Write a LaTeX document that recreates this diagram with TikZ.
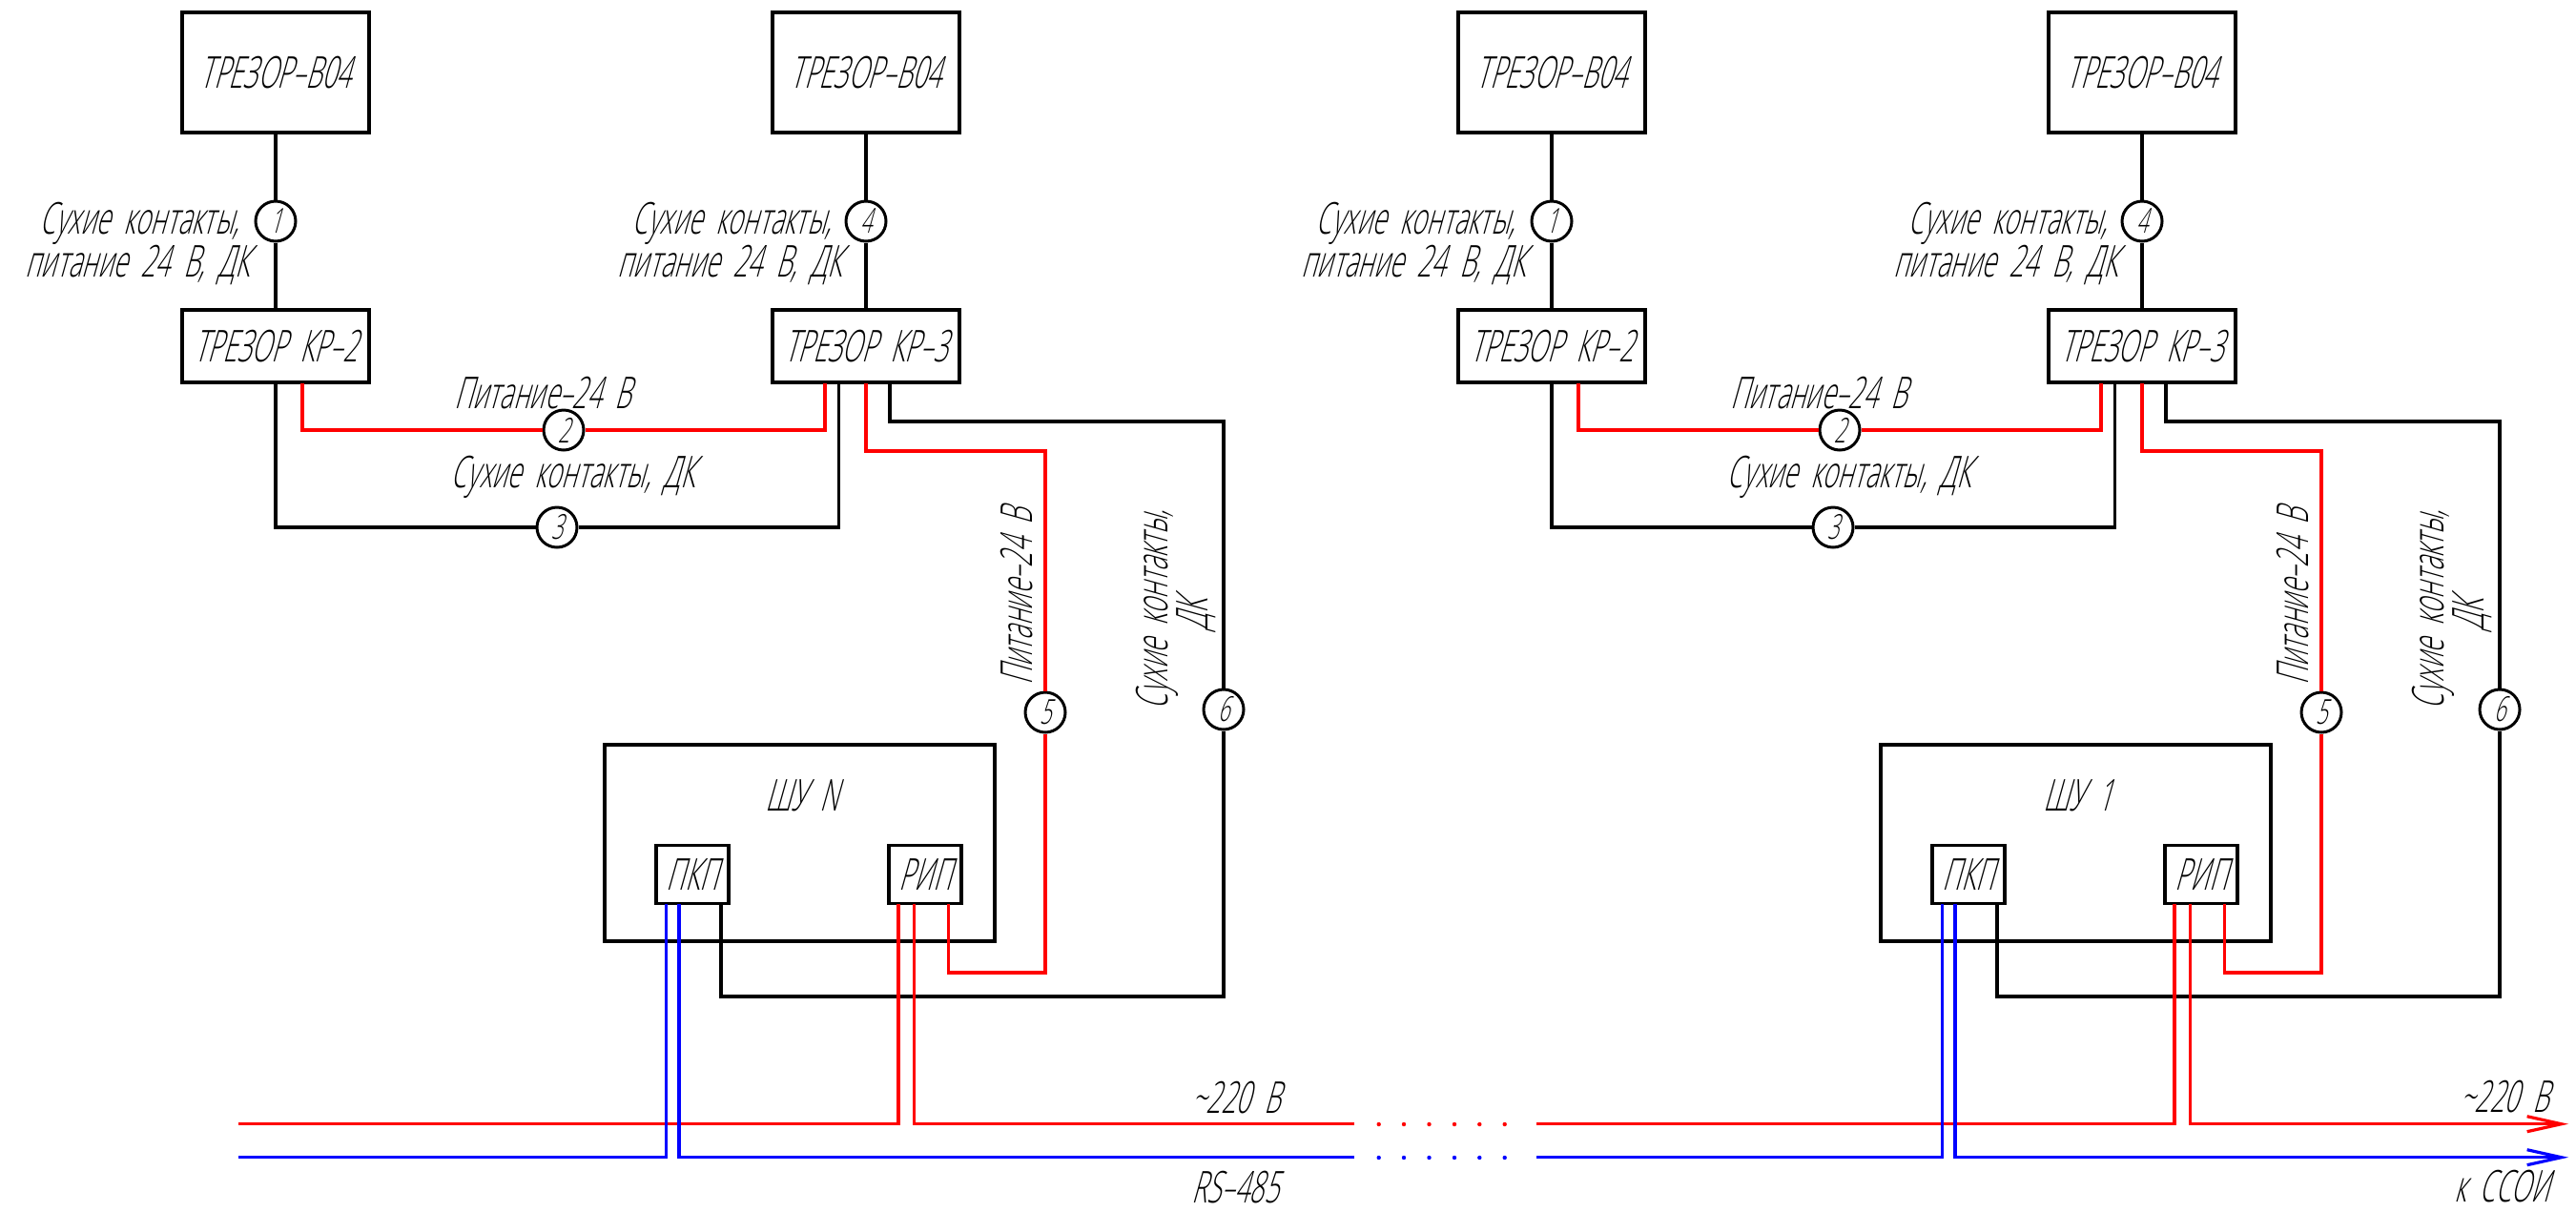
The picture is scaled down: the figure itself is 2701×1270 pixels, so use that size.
\documentclass[tikz,border=0pt]{standalone}
\usepackage{fontspec}
\setmainfont[FakeSlant=0.28,FakeStretch=0.59,WordSpace=2.0]{Open Sans Light}
\definecolor{wred}{RGB}{255,0,0}
\definecolor{wblue}{RGB}{0,0,255}
\usetikzlibrary{arrows.meta}
\tikzset{
  devbox/.style={draw=black,line width=1.9pt,fill=white,inner sep=0pt,font=\fontsize{23}{23}\selectfont},
  num/.style={draw=black,line width=1.5pt,fill=white,circle,minimum size=21pt,inner sep=0pt,font=\fontsize{18}{18}\selectfont},
  lab/.style={inner sep=0pt,font=\fontsize{23}{23}\selectfont},
  wk/.style={draw=black,line width=1.6pt},
  wr/.style={draw=wred,line width=1.6pt},
  wb/.style={draw=wblue,line width=1.6pt},
  tipo/.style={-{Straight Barb[length=18pt,width=8pt,line width=1.6pt]}},
}
\begin{document}
\begin{tikzpicture}[x=0.5pt,y=-0.5pt]
\useasboundingbox (0,0) rectangle (2701,1270);
\foreach \o/\p/\t in {0/a/N,1338/b/1}{
\begin{scope}[shift={(\o,0)}]
  % devices
  \node[devbox,minimum width=98pt,minimum height=63pt] (\p B1) at (289,76) {ТРЕЗОР–В04};
  \node[devbox,minimum width=98pt,minimum height=63pt] (\p B2) at (908,76) {ТРЕЗОР–В04};
  \node[devbox,minimum width=98pt,minimum height=38pt] (\p K1) at (289,363) {ТРЕЗОР КР–2};
  \node[devbox,minimum width=98pt,minimum height=38pt] (\p K2) at (908,363) {ТРЕЗОР КР–3};
  \node[devbox,minimum width=204.5pt,minimum height=103pt] (\p S) at (838.5,884) {};
  \node[lab] (\p St) at (841,834) {ШУ \t};
  \node[devbox,minimum width=38pt,minimum height=30.5pt] (\p P) at (726,917) {ПКП};
  \node[devbox,minimum width=38pt,minimum height=30.5pt] (\p R) at (970,917) {РИП};
  % numbered circles
  \node[num] (\p c1) at (289,232) {1};
  \node[num] (\p c2) at (591,451) {2};
  \node[num] (\p c3) at (584,553) {3};
  \node[num] (\p c4) at (908,232) {4};
  \node[num] (\p c5) at (1096,747) {5};
  \node[num] (\p c6) at (1283,744) {6};
  % labels
  \node[lab] (\p l1) at (146,234) {Сухие контакты,};
  \node[lab] (\p l2) at (144,278) {питание 24 В, ДК};
  \node[lab] (\p l3) at (767,234) {Сухие контакты,};
  \node[lab] (\p l4) at (765,278) {питание 24 В, ДК};
  \node[lab] (\p l5) at (569,412) {Питание–24 В};
  \node[lab] (\p l6) at (601,500) {Сухие контакты, ДК};
  \node[lab,rotate=90] (\p l7) at (1066,626) {Питание–24 В};
  \node[lab,rotate=90] (\p l8) at (1213,640) {Сухие контакты,};
  \node[lab,rotate=90] (\p l9) at (1254,645) {ДК};
  % terminal coordinates on the lower box edges
  \coordinate (\p k1r) at (317,401.5);
  \coordinate (\p k2r) at (865,401.5);
  \coordinate (\p k2k) at (879.5,401.5);
  \coordinate (\p k2o) at (908,401.5);
  \coordinate (\p k2q) at (933,401.5);
  \coordinate (\p rr) at (994.5,947.5);
  \coordinate (\p pk) at (756,947.5);
  \coordinate (\p rl) at (942,947.5);
  \coordinate (\p rm) at (958.7,947.5);
  \coordinate (\p pl) at (698.5,947.5);
  \coordinate (\p pm) at (712,947.5);
  % connectors
  \draw[wk] (\p B1) -- (\p c1) -- (\p K1);
  \draw[wk] (\p B2) -- (\p c4) -- (\p K2);
  \draw[wr] (\p k1r) |- (\p c2) -| (\p k2r);
  \draw[wk] (\p K1.south) |- (\p c3) -| (\p k2k);
  \draw[wr] (\p k2o) |- (\p c5.north |- 0,473) -- (\p c5);
  \draw[wk] (\p k2q) |- (\p c6.north |- 0,442) -- (\p c6);
  \draw[wr] (\p c5) |- (\p rr |- 0,1020) -- (\p rr);
  \draw[wk] (\p c6) |- (\p pk |- 0,1045) -- (\p pk);
\end{scope}
}
% bus lines
\coordinate (rs) at (250,1178.7);
\coordinate (bs) at (250,1213.7);
\coordinate (re) at (1420,1178.7);
\coordinate (be) at (1420,1213.7);
\coordinate (rs2) at (1611,1178.7);
\coordinate (bs2) at (1611,1213.7);
\coordinate (rt) at (2693,1178.7);
\coordinate (bt) at (2693,1213.7);
\draw[wr] (rs) -- (arl |- rs) -- (arl);
\draw[wr] (arm) -- (arm |- re) -- (re);
\draw[wb] (bs) -- (apl |- bs) -- (apl);
\draw[wb] (apm) -- (apm |- be) -- (be);
\draw[wr] (rs2) -- (brl |- rs2) -- (brl);
\draw[wr,tipo] (brm) -- (brm |- rt) -- (rt);
\draw[wb] (bs2) -- (bpl |- bs2) -- (bpl);
\draw[wb,tipo] (bpm) -- (bpm |- bt) -- (bt);
\foreach \x in {1445.7,1472,1498.5,1525,1551.3,1577.7}{
  \fill[wred] (\x,1179) circle (1.1pt);
  \fill[wblue] (\x,1214) circle (1.1pt);
}
\node[lab] (t1) at (1296,1151) {\char"007E 220 В};
\node[lab] (t2) at (1295,1245) {RS–485};
\node[lab] (t3) at (2626,1150) {\char"007E 220 В};
\node[lab] (t4) at (2623,1244) {к ССОИ};
\end{tikzpicture}
\end{document}
